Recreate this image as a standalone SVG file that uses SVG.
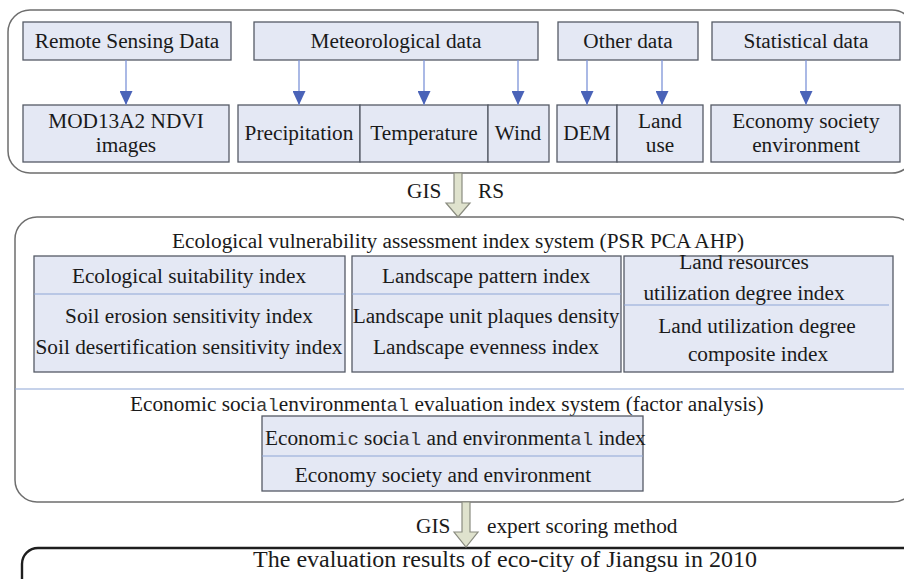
<svg xmlns="http://www.w3.org/2000/svg" width="904" height="579" viewBox="0 0 904 579">
  <defs>
    <style>
      .frame { fill: #ffffff; stroke: #6e6e6e; stroke-width: 1.5; }
      .frame-dark { fill: #ffffff; stroke: #1e1e1e; stroke-width: 2.4; }
      .box { fill: #e4e8f4; stroke: #555a66; stroke-width: 1.3; }
      .sep { stroke: #8ea6d6; stroke-width: 1.2; fill: none; }
      .t { font-family: "Liberation Serif", "Times New Roman", serif; font-size: 21.3px; fill: #1a1a1a; text-anchor: middle; }
      .tl { font-family: "Liberation Serif", "Times New Roman", serif; font-size: 21.3px; fill: #1a1a1a; }
      .m { font-family: "Liberation Mono", "Courier New", monospace; font-size: 19px; fill: #3a3a3a; }
      .link { stroke: #7d94d8; stroke-width: 1.3; fill: none; marker-end: url(#head); }
      .big { fill: #dfe2cd; stroke: #8a8c80; stroke-width: 1.2; }
    </style>
    <marker id="head" viewBox="0 0 14 13" refX="14" refY="6.5" markerWidth="14" markerHeight="13" markerUnits="userSpaceOnUse" orient="auto">
      <path d="M0,0 L14,6.5 L0,13 Z" fill="#4a63b8"/>
    </marker>
  </defs>

  <!-- data sources panel -->
  <g id="sources-panel">
    <rect class="frame" x="8" y="10" width="906" height="163" rx="22" ry="22"/>
  </g>

  <g id="remote-sensing">
    <rect class="box" x="23" y="22" width="208" height="38"/>
    <text class="t" x="127" y="48">Remote Sensing Data</text>
  </g>
  <g id="meteorological">
    <rect class="box" x="254" y="22" width="284" height="38"/>
    <text class="t" x="396" y="48">Meteorological data</text>
  </g>
  <g id="other-data">
    <rect class="box" x="558" y="22" width="140" height="38"/>
    <text class="t" x="628" y="48">Other data</text>
  </g>
  <g id="statistical">
    <rect class="box" x="712" y="22" width="188" height="38"/>
    <text class="t" x="806" y="48">Statistical data</text>
  </g>

  <g id="ndvi">
    <rect class="box" x="23" y="105" width="206" height="57"/>
    <text class="t" x="126" y="128">MOD13A2 NDVI</text>
    <text class="t" x="126" y="152">images</text>
  </g>
  <g id="precipitation">
    <rect class="box" x="238" y="105" width="122" height="57"/>
    <text class="t" x="299" y="140">Precipitation</text>
  </g>
  <g id="temperature">
    <rect class="box" x="360" y="105" width="128" height="57"/>
    <text class="t" x="424" y="140">Temperature</text>
  </g>
  <g id="wind">
    <rect class="box" x="488" y="105" width="61" height="57"/>
    <text class="t" x="518" y="140">Wind</text>
  </g>
  <g id="dem">
    <rect class="box" x="557" y="105" width="60" height="57"/>
    <text class="t" x="587" y="140">DEM</text>
  </g>
  <g id="land-use">
    <rect class="box" x="617" y="105" width="86" height="57"/>
    <text class="t" x="660" y="128">Land</text>
    <text class="t" x="660" y="152">use</text>
  </g>
  <g id="economy-data">
    <rect class="box" x="711" y="105" width="189" height="57"/>
    <text class="t" x="806" y="128">Economy society</text>
    <text class="t" x="806" y="152">environment</text>
  </g>

  <!-- assessment panel -->
  <g id="assessment-panel">
    <rect class="frame" x="15" y="217" width="900" height="285" rx="22" ry="22"/>
    <text class="t" x="458" y="248">Ecological vulnerability assessment index system (PSR PCA AHP)</text>
    <line class="sep" x1="15" y1="389" x2="904" y2="389"/>
    <text class="tl" x="130" y="411">Economic soci<tspan class="m">al</tspan>environment<tspan class="m">al</tspan> evaluation index system (factor analysis)</text>
  </g>

  <g id="ecological-suitability">
    <rect class="box" x="34" y="256" width="311" height="116"/>
    <line class="sep" x1="34" y1="294" x2="345" y2="294"/>
    <text class="t" x="189" y="283">Ecological suitability index</text>
    <text class="t" x="189" y="323">Soil erosion sensitivity index</text>
    <text class="t" x="189" y="354">Soil desertification sensitivity index</text>
  </g>
  <g id="landscape-pattern">
    <rect class="box" x="352" y="256" width="269" height="116"/>
    <line class="sep" x1="352" y1="294" x2="621" y2="294"/>
    <text class="t" x="486" y="283">Landscape pattern index</text>
    <text class="t" x="486" y="323">Landscape unit plaques density</text>
    <text class="t" x="486" y="354">Landscape evenness index</text>
  </g>
  <g id="land-resources">
    <rect class="box" x="624" y="256" width="269" height="116"/>
    <line class="sep" x1="624" y1="305" x2="889" y2="305"/>
    <text class="t" x="744" y="269">Land resources</text>
    <text class="t" x="744" y="300">utilization degree index</text>
    <text class="t" x="757" y="333">Land utilization degree</text>
    <text class="t" x="758" y="361">composite index</text>
  </g>

  <g id="economic-index">
    <rect class="box" x="262" y="416" width="381" height="75"/>
    <line class="sep" x1="262" y1="456" x2="643" y2="456"/>
    <text class="tl" x="265" y="445">Econom<tspan class="m">ic</tspan> soci<tspan class="m">al</tspan> and environment<tspan class="m">al</tspan> index</text>
    <text class="t" x="443" y="482">Economy society and environment</text>
  </g>

  <!-- results panel -->
  <g id="results">
    <rect class="frame-dark" x="22" y="548" width="900" height="80" rx="16" ry="16"/>
    <text class="t" x="505" y="567" style="font-size:24px">The evaluation results of eco-city of Jiangsu in 2010</text>
  </g>

  <!-- connectors -->
  <g id="connectors">
    <line class="link" x1="126" y1="60" x2="126" y2="105"/>
    <line class="link" x1="299" y1="60" x2="299" y2="105"/>
    <line class="link" x1="424" y1="60" x2="424" y2="105"/>
    <line class="link" x1="518" y1="60" x2="518" y2="105"/>
    <line class="link" x1="587" y1="60" x2="587" y2="105"/>
    <line class="link" x1="662" y1="60" x2="662" y2="105"/>
    <line class="link" x1="806" y1="60" x2="806" y2="105"/>

    <path class="big" d="M454,173 L462,173 L462,203 L470,203 L458,217 L446,203 L454,203 Z"/>
    <text class="tl" x="407" y="198">GIS</text>
    <text class="tl" x="478" y="198">RS</text>

    <path class="big" d="M462,502 L470,502 L470,532 L478,532 L466,547 L454,532 L462,532 Z"/>
    <text class="tl" x="416" y="533">GIS</text>
    <text class="tl" x="487" y="533">expert scoring method</text>
  </g>
</svg>
